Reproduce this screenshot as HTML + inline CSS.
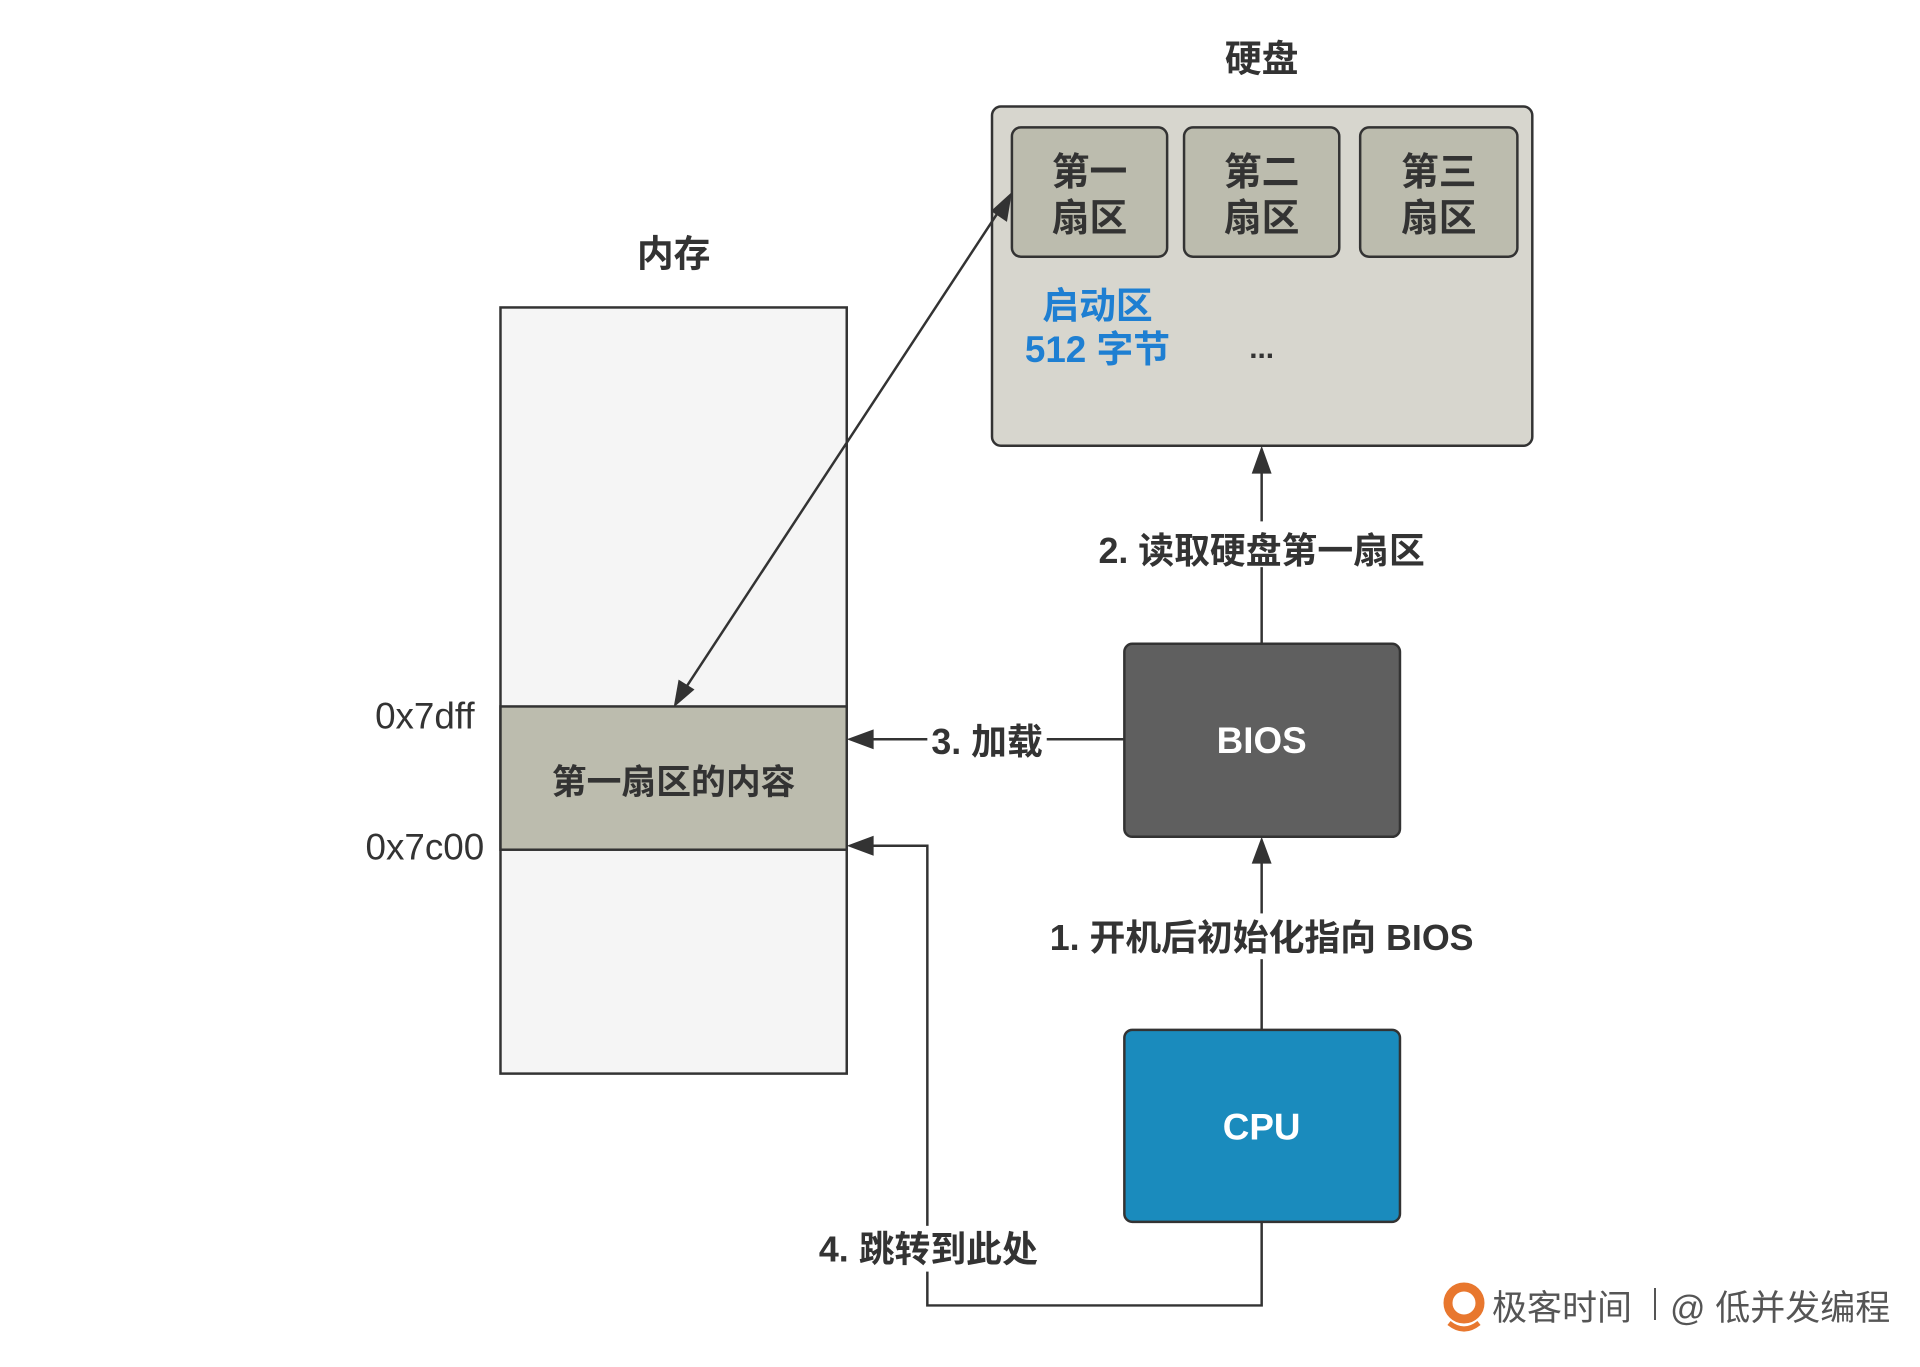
<!DOCTYPE html>
<html><head><meta charset="utf-8"><style>
html,body{margin:0;padding:0;background:#fff;}
svg{display:block;}
text{font-family:"Liberation Sans","Noto Sans CJK SC",sans-serif;}
</style></head><body>
<svg width="1920" height="1367" viewBox="0 0 1920 1367" xmlns="http://www.w3.org/2000/svg">
<g transform="scale(0.995)">
<!-- disk -->
<text x="1268" y="72" text-anchor="middle" font-size="37" font-weight="bold" fill="#333">硬盘</text>
<rect x="997" y="107" width="543" height="341" rx="9" fill="#d7d6ce" stroke="#333" stroke-width="2.5"/>
<rect x="1017" y="128" width="156" height="130" rx="9" fill="#bcbcae" stroke="#333" stroke-width="2.5"/>
<rect x="1190" y="128" width="156" height="130" rx="9" fill="#bcbcae" stroke="#333" stroke-width="2.5"/>
<rect x="1367" y="128" width="158" height="130" rx="9" fill="#bcbcae" stroke="#333" stroke-width="2.5"/>
<g font-size="38" font-weight="bold" fill="#333" text-anchor="middle">
<text x="1095" y="186">第一</text><text x="1095" y="232">扇区</text>
<text x="1268" y="186">第二</text><text x="1268" y="232">扇区</text>
<text x="1446" y="186">第三</text><text x="1446" y="232">扇区</text>
</g>
<g font-size="37" font-weight="bold" fill="#1e7fd2" text-anchor="middle">
<text x="1103" y="320">启动区</text><text x="1103" y="364">512 字节</text>
</g>
<text x="1268" y="360" text-anchor="middle" font-size="30" font-weight="bold" fill="#333">...</text>
<!-- memory -->
<text x="677" y="268" text-anchor="middle" font-size="37" font-weight="bold" fill="#333">内存</text>
<rect x="503" y="309" width="348" height="770" fill="#f5f5f5" stroke="#333" stroke-width="2.5"/>
<rect x="503" y="710" width="348" height="144" fill="#bcbcae" stroke="#333" stroke-width="2.5"/>
<text x="677" y="798" text-anchor="middle" font-size="35" font-weight="bold" fill="#333">第一扇区的内容</text>
<text x="427" y="732" text-anchor="middle" font-size="37" fill="#333">0x7dff</text>
<text x="427" y="864" text-anchor="middle" font-size="37" fill="#333">0x7c00</text>
<!-- BIOS / CPU -->
<rect x="1130" y="647" width="277" height="194" rx="8" fill="#5f5f5f" stroke="#333" stroke-width="2.5"/>
<text x="1268" y="757" text-anchor="middle" font-size="37" font-weight="bold" fill="#fff">BIOS</text>
<rect x="1130" y="1035" width="277" height="193" rx="8" fill="#1a8bbd" stroke="#333" stroke-width="2.5"/>
<text x="1268" y="1145" text-anchor="middle" font-size="37" font-weight="bold" fill="#fff">CPU</text>
<!-- connectors -->
<g stroke="#333" stroke-width="2.5" fill="none">
<line x1="1268" y1="1035" x2="1268" y2="865"/>
<line x1="1268" y1="647" x2="1268" y2="472"/>
<line x1="1130" y1="743" x2="875" y2="743"/>
<polyline points="1268,1228 1268,1312 932,1312 932,850 875,850"/>
<line x1="690" y1="690" x2="1004" y2="212"/>
</g>
<g fill="#333">
<polygon points="1268,841 1258,868 1278,868"/>
<polygon points="1268,448 1258,476 1278,476"/>
<polygon points="851,743 878,733 878,753"/>
<polygon points="851,850 878,840 878,860"/>
<polygon points="677,711 682,683 698,693"/>
<polygon points="1017,193 996,212 1012,223"/>
</g>
<!-- labels -->
<g font-size="36" font-weight="bold" fill="#333" text-anchor="middle">
<rect x="1090" y="524" width="356" height="46" fill="#fff"/>
<text x="1268" y="566">2. 读取硬盘第一扇区</text>
<rect x="932" y="722" width="120" height="46" fill="#fff"/>
<text x="992" y="758">3. 加载</text>
<rect x="1040" y="918" width="456" height="46" fill="#fff"/>
<text x="1268" y="955">1. 开机后初始化指向 BIOS</text>
<rect x="815" y="1232" width="236" height="46" fill="#fff"/>
<text x="933" y="1268">4. 跳转到此处</text>
</g>
</g>
<!-- watermark -->
<circle cx="1464" cy="1303" r="16" fill="none" stroke="#e8772e" stroke-width="9"/>
<path d="M1449 1323 Q1464 1335 1479 1323" stroke="#e8772e" stroke-width="5" fill="none"/>
<text x="1492" y="1320" font-size="35" fill="#555">极客时间</text>
<line x1="1655" y1="1288" x2="1655" y2="1320" stroke="#555" stroke-width="2"/>
<text x="1670" y="1320" font-size="35" fill="#555">@ 低并发编程</text>
</svg>
</body></html>
